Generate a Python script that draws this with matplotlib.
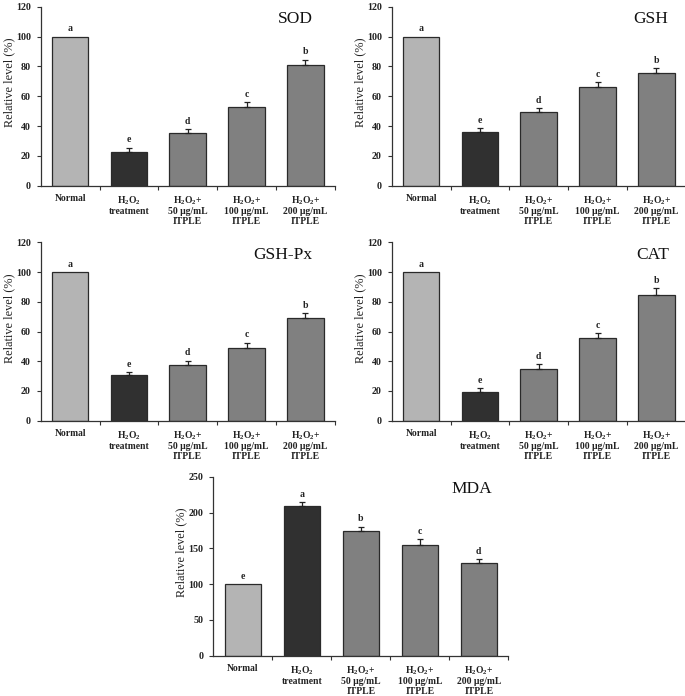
import matplotlib
matplotlib.use("Agg")
import matplotlib.pyplot as plt
import numpy as np

plt.rcParams['font.family'] = ['Liberation Serif', 'DejaVu Serif']
plt.rcParams['mathtext.fontset'] = 'custom'
plt.rcParams['mathtext.rm'] = 'Liberation Serif:bold'
plt.rcParams['mathtext.it'] = 'Liberation Serif:italic:bold'
plt.rcParams['mathtext.bf'] = 'Liberation Serif:bold'

categories = ["Normal",
              "H$_2$O$_2$\ntreatment",
              "H$_2$O$_2$+\n50 \u03bcg/mL\nITPLE",
              "H$_2$O$_2$+\n100 \u03bcg/mL\nITPLE",
              "H$_2$O$_2$+\n200 \u03bcg/mL\nITPLE"]

sod_values = [100, 22.3, 35.3, 52.6, 80.7]
sod_errors = [0, 3.0, 2.7, 3.4, 3.8]
sod_letters = ["a", "e", "d", "c", "b"]

gsh_values = [100, 35.7, 49.7, 66.5, 75.5]
gsh_errors = [0, 2.7, 2.2, 2.7, 3.4]
gsh_letters = ["a", "e", "d", "c", "b"]

gshpx_values = [100, 30.6, 37.8, 48.8, 69.4]
gshpx_errors = [0, 2.0, 2.4, 3.6, 2.9]
gshpx_letters = ["a", "e", "d", "c", "b"]

cat_values = [100, 19.6, 35.1, 55.5, 84.7]
cat_errors = [0, 2.4, 2.9, 3.4, 4.5]
cat_letters = ["a", "e", "d", "c", "b"]

mda_values = [100, 208.4, 174.3, 155.0, 129.0]
mda_errors = [0, 6.0, 6.0, 7.5, 6.0]
mda_letters = ["e", "a", "b", "c", "d"]

yticks_120 = [0, 20, 40, 60, 80, 100, 120]
yticks_250 = [0, 50, 100, 150, 200, 250]

bar_colors = ["#b4b4b4", "#303030", "#808080", "#808080", "#808080"]

W, H = 685, 696
fig = plt.figure(figsize=(W / 100, H / 100), dpi=100)


def px_axes(left, top, right, bottom):
    return fig.add_axes([left / W, 1 - bottom / H, (right - left) / W, (bottom - top) / H])


panels = [
    ("SOD", sod_values, sod_errors, sod_letters, yticks_120, (40.7, 6.7, 334.7, 185.7), 0.925),
    ("GSH", gsh_values, gsh_errors, gsh_letters, yticks_120, (391.7, 6.7, 685.7, 185.7), 0.94),
    ("GSH-Px", gshpx_values, gshpx_errors, gshpx_letters, yticks_120, (40.7, 242.3, 334.7, 420.7), 0.925),
    ("CAT", cat_values, cat_errors, cat_letters, yticks_120, (391.7, 242.3, 685.7, 420.7), 0.945),
    ("MDA", mda_values, mda_errors, mda_letters, yticks_250, (213.3, 476.7, 508.3, 655.7), 0.945),
]

for title, vals, errs, letters, yt, box, tx in panels:
    ax = px_axes(*box)
    x = np.arange(len(categories))
    ax.bar(x, vals, width=0.62, color=bar_colors, edgecolor="#2a2a2a", linewidth=0.9, zorder=2)
    for xi, v, e in zip(x, vals, errs):
        if e > 0:
            ax.errorbar(xi, v, yerr=[[0], [e]], fmt="none", ecolor="#222222",
                        elinewidth=0.9, capsize=2.2, capthick=0.9, zorder=3)
    for xi, v, e, l in zip(x, vals, errs, letters):
        ax.annotate(l, (xi, v + e), xytext=(0, 2.5), textcoords="offset points",
                    ha="center", va="bottom", fontsize=7, fontweight="bold", color="#222222")
    ax.set_xlim(-0.5, 4.5)
    ax.set_ylim(yt[0], yt[-1])
    ax.set_yticks(yt)
    ax.set_yticklabels([str(t) for t in yt], fontsize=7.2, fontweight="bold", color="#222222")
    ax.set_xticks(x)
    ax.set_xticklabels(categories, fontsize=6.9, linespacing=1.08, va="top",
                       fontweight="bold", color="#222222")
    ax.tick_params(axis="x", which="major", length=0, pad=6)
    ax.set_xticks(np.arange(0.5, 5.0, 1.0), minor=True)
    ax.tick_params(axis="x", which="minor", length=3, width=0.8, direction="out", color="#333333")
    ax.tick_params(axis="y", length=3, width=0.8, direction="out", color="#333333", pad=4)
    for s in ["top", "right"]:
        ax.spines[s].set_visible(False)
    for s in ["left", "bottom"]:
        ax.spines[s].set_color("#333333")
        ax.spines[s].set_linewidth(0.9)
    ax.set_ylabel("Relative level (%)", fontsize=8.8, color="#222222")
    ax.yaxis.set_label_coords(-0.087, 0.577)
    ax.text(tx, 0.93, title, transform=ax.transAxes, ha="right", va="center", fontsize=12.5,
            color="#111111")

fig.savefig("out.png", dpi=100, facecolor="white")
